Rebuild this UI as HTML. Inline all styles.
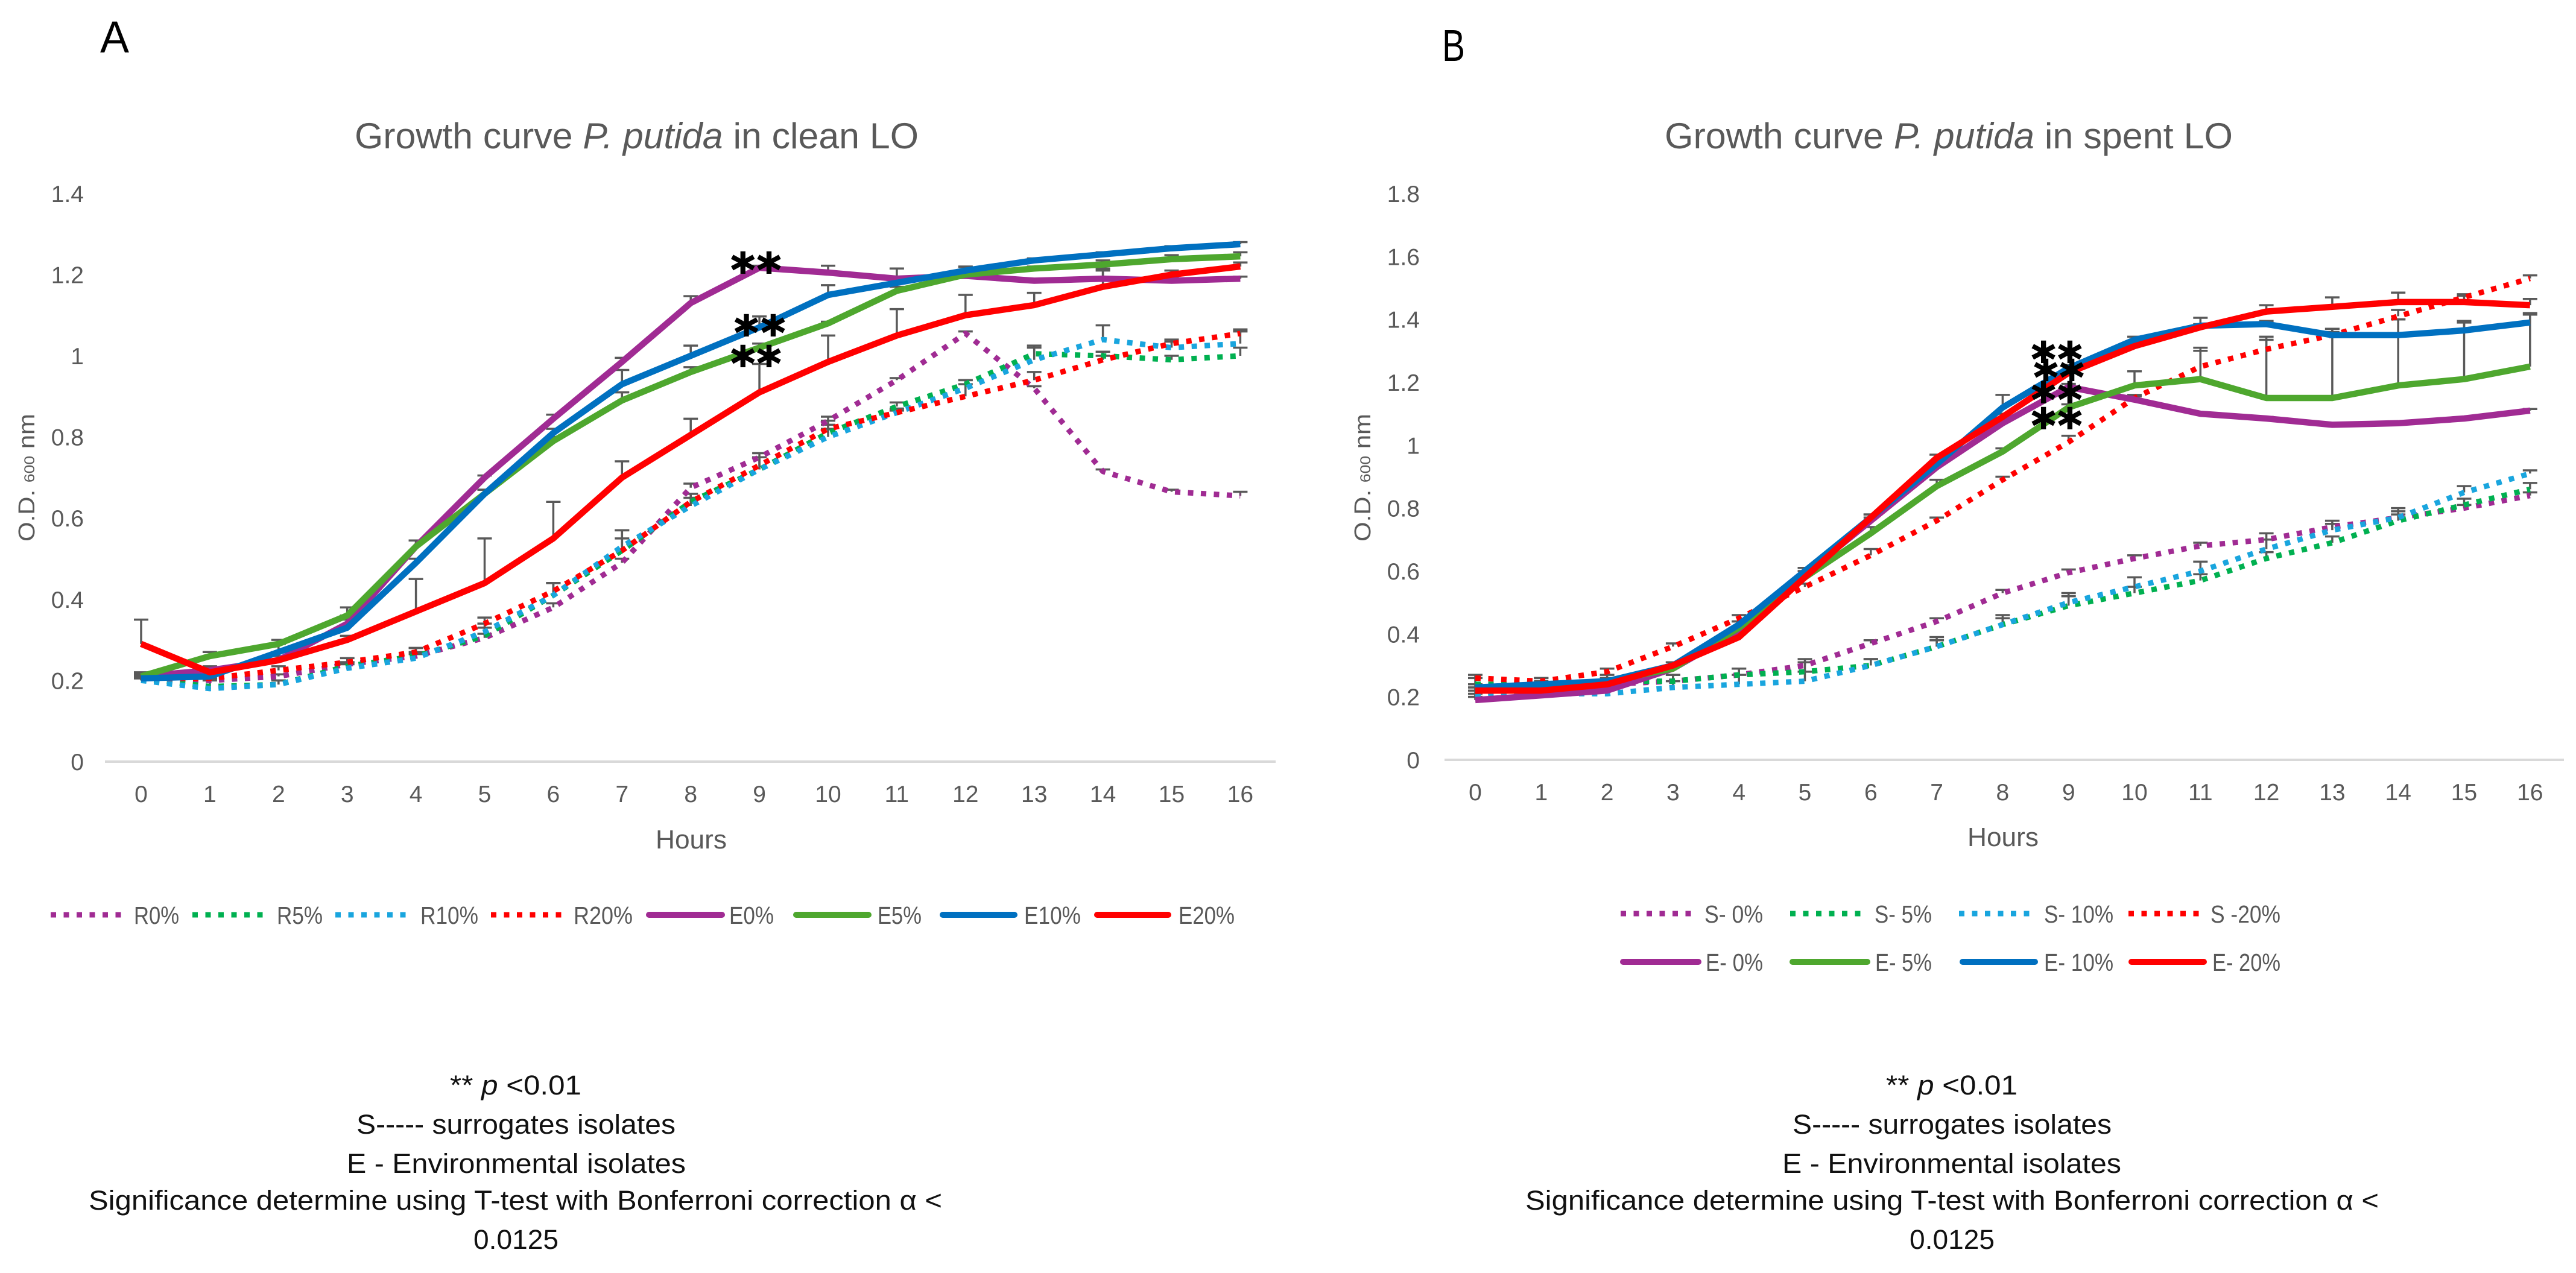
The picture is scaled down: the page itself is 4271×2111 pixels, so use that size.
<!DOCTYPE html>
<html lang="en">
<head>
<meta charset="utf-8">
<title>Growth curves of P. putida</title>
<style>
html,body{margin:0;padding:0;background:#fff;}
svg{display:block;font-family:"Liberation Sans",sans-serif;}
.tick{font-size:39px;fill:#595959;}
.leg{font-size:41px;fill:#595959;}
.foot{font-size:45px;fill:#111;}
.ttl{font-size:60px;fill:#595959;}
.ax{font-size:44px;fill:#595959;}
.yt{font-size:38px;fill:#595959;}
</style>
</head>
<body>
<svg id="figure" width="4271" height="2111" viewBox="0 0 4271 2111" xmlns="http://www.w3.org/2000/svg">
<rect width="4271" height="2111" fill="#fff"/>

<text x="166" y="87" font-size="74" textLength="48" lengthAdjust="spacingAndGlyphs" fill="#000">A</text>
<text x="2391" y="101" font-size="74" textLength="38" lengthAdjust="spacingAndGlyphs" fill="#000">B</text>

<text class="ttl" x="588" y="246" textLength="935" lengthAdjust="spacingAndGlyphs">Growth curve <tspan font-style="italic">P. putida</tspan> in clean LO</text>
<text class="ttl" x="2760" y="246" textLength="942" lengthAdjust="spacingAndGlyphs">Growth curve <tspan font-style="italic">P. putida</tspan> in spent LO</text>

<g id="chartA"></g>
<g id="chartB"></g>

<text class="ax" x="1146" y="1407" text-anchor="middle" textLength="118" lengthAdjust="spacingAndGlyphs">Hours</text>
<text class="ax" x="3321" y="1403" text-anchor="middle" textLength="118" lengthAdjust="spacingAndGlyphs">Hours</text>

<text class="yt" transform="translate(57,898) rotate(-90)" x="0" y="0" textLength="212" lengthAdjust="spacingAndGlyphs">O.D. <tspan font-size="24">600</tspan> nm</text>
<text class="yt" transform="translate(2272,898) rotate(-90)" x="0" y="0" textLength="212" lengthAdjust="spacingAndGlyphs">O.D. <tspan font-size="24">600</tspan> nm</text>

<g stroke-width="9">
  <g><line x1="84" x2="204" y1="1517" y2="1517" stroke="#A02B93" stroke-dasharray="9 12.5"/><text class="leg" stroke="none" x="222" y="1532" textLength="75" lengthAdjust="spacingAndGlyphs">R0%</text></g>
  <g><line x1="319" x2="439" y1="1517" y2="1517" stroke="#00B050" stroke-dasharray="9 12.5"/><text class="leg" stroke="none" x="459" y="1532" textLength="76" lengthAdjust="spacingAndGlyphs">R5%</text></g>
  <g><line x1="556" x2="676" y1="1517" y2="1517" stroke="#19A5DE" stroke-dasharray="9 12.5"/><text class="leg" stroke="none" x="697" y="1532" textLength="96" lengthAdjust="spacingAndGlyphs">R10%</text></g>
  <g><line x1="814" x2="934" y1="1517" y2="1517" stroke="#FF0000" stroke-dasharray="9 12.5"/><text class="leg" stroke="none" x="951" y="1532" textLength="98" lengthAdjust="spacingAndGlyphs">R20%</text></g>
  <g><line x1="1076" x2="1197" y1="1517" y2="1517" stroke="#A02B93" stroke-width="10" stroke-linecap="round"/><text class="leg" stroke="none" x="1209" y="1532" textLength="74" lengthAdjust="spacingAndGlyphs">E0%</text></g>
  <g><line x1="1320" x2="1440" y1="1517" y2="1517" stroke="#4EA72E" stroke-width="10" stroke-linecap="round"/><text class="leg" stroke="none" x="1455" y="1532" textLength="73" lengthAdjust="spacingAndGlyphs">E5%</text></g>
  <g><line x1="1563" x2="1682" y1="1517" y2="1517" stroke="#0070C0" stroke-width="10" stroke-linecap="round"/><text class="leg" stroke="none" x="1698" y="1532" textLength="94" lengthAdjust="spacingAndGlyphs">E10%</text></g>
  <g><line x1="1819" x2="1937" y1="1517" y2="1517" stroke="#FF0000" stroke-width="10" stroke-linecap="round"/><text class="leg" stroke="none" x="1954" y="1532" textLength="93" lengthAdjust="spacingAndGlyphs">E20%</text></g>
</g>

<g stroke-width="9">
  <g><line x1="2687" x2="2807" y1="1515" y2="1515" stroke="#A02B93" stroke-dasharray="9 12.5"/><text class="leg" stroke="none" x="2826" y="1530" textLength="97" lengthAdjust="spacingAndGlyphs">S- 0%</text></g>
  <g><line x1="2968" x2="3086" y1="1515" y2="1515" stroke="#00B050" stroke-dasharray="9 12.5"/><text class="leg" stroke="none" x="3108" y="1530" textLength="95" lengthAdjust="spacingAndGlyphs">S- 5%</text></g>
  <g><line x1="3248" x2="3368" y1="1515" y2="1515" stroke="#19A5DE" stroke-dasharray="9 12.5"/><text class="leg" stroke="none" x="3389" y="1530" textLength="115" lengthAdjust="spacingAndGlyphs">S- 10%</text></g>
  <g><line x1="3529" x2="3647" y1="1515" y2="1515" stroke="#FF0000" stroke-dasharray="9 12.5"/><text class="leg" stroke="none" x="3665" y="1530" textLength="116" lengthAdjust="spacingAndGlyphs">S -20%</text></g>
  <g><line x1="2691" x2="2816" y1="1595" y2="1595" stroke="#A02B93" stroke-width="10" stroke-linecap="round"/><text class="leg" stroke="none" x="2828" y="1610" textLength="95" lengthAdjust="spacingAndGlyphs">E- 0%</text></g>
  <g><line x1="2972" x2="3096" y1="1595" y2="1595" stroke="#4EA72E" stroke-width="10" stroke-linecap="round"/><text class="leg" stroke="none" x="3109" y="1610" textLength="94" lengthAdjust="spacingAndGlyphs">E- 5%</text></g>
  <g><line x1="3254" x2="3374" y1="1595" y2="1595" stroke="#0070C0" stroke-width="10" stroke-linecap="round"/><text class="leg" stroke="none" x="3389" y="1610" textLength="115" lengthAdjust="spacingAndGlyphs">E- 10%</text></g>
  <g><line x1="3534" x2="3654" y1="1595" y2="1595" stroke="#FF0000" stroke-width="10" stroke-linecap="round"/><text class="leg" stroke="none" x="3668" y="1610" textLength="113" lengthAdjust="spacingAndGlyphs">E- 20%</text></g>
</g>

<g>
  <text class="foot" x="746" y="1815" textLength="218" lengthAdjust="spacingAndGlyphs">** <tspan font-style="italic">p</tspan> &lt;0.01</text>
  <text class="foot" x="591" y="1880" textLength="529" lengthAdjust="spacingAndGlyphs">S----- surrogates isolates</text>
  <text class="foot" x="575" y="1945" textLength="562" lengthAdjust="spacingAndGlyphs">E - Environmental isolates</text>
  <text class="foot" x="147" y="2006" textLength="1415" lengthAdjust="spacingAndGlyphs">Significance determine using T-test with Bonferroni correction α &lt;</text>
  <text class="foot" x="785" y="2071" textLength="141" lengthAdjust="spacingAndGlyphs">0.0125</text>
</g>
<g>
  <text class="foot" x="3127" y="1815" textLength="218" lengthAdjust="spacingAndGlyphs">** <tspan font-style="italic">p</tspan> &lt;0.01</text>
  <text class="foot" x="2972" y="1880" textLength="529" lengthAdjust="spacingAndGlyphs">S----- surrogates isolates</text>
  <text class="foot" x="2955" y="1945" textLength="562" lengthAdjust="spacingAndGlyphs">E - Environmental isolates</text>
  <text class="foot" x="2529" y="2006" textLength="1415" lengthAdjust="spacingAndGlyphs">Significance determine using T-test with Bonferroni correction α &lt;</text>
  <text class="foot" x="3166" y="2071" textLength="141" lengthAdjust="spacingAndGlyphs">0.0125</text>
</g>
</svg>

<script>
var hours = [0,1,2,3,4,5,6,7,8,9,10,11,12,13,14,15,16];

// Panel A: clean LO
var aYTicks = [0,0.2,0.4,0.6,0.8,1,1.2,1.4];
var aR0  = [.205,.20,.21,.24,.26,.305,.38,.49,.675,.75,.84,.94,1.055,.92,.715,.665,.655];
var aR5  = [.205,.185,.19,.235,.26,.31,.41,.52,.64,.72,.81,.875,.93,1.005,1.0,.99,1.0];
var aR10 = [.20,.18,.19,.23,.255,.32,.41,.53,.63,.72,.80,.86,.92,.99,1.04,1.02,1.03];
var aR20 = [.205,.205,.225,.245,.27,.34,.42,.52,.64,.73,.82,.86,.90,.94,.99,1.03,1.055];
var aE0  = [.21,.225,.25,.34,.53,.70,.845,.985,1.13,1.217,1.205,1.19,1.197,1.185,1.19,1.185,1.19];
var aE5  = [.21,.26,.29,.36,.53,.66,.79,.89,.96,1.02,1.08,1.16,1.20,1.215,1.225,1.238,1.245];
var aE10 = [.205,.21,.27,.33,.49,.66,.81,.93,1.0,1.07,1.15,1.18,1.21,1.235,1.25,1.265,1.275];
var aE20 = [.29,.22,.25,.30,.37,.44,.55,.70,.805,.91,.985,1.05,1.10,1.125,1.17,1.20,1.22];
var aErrR0  = [.005,.005,.005,.005,.02,.01,.01,.01,.01,.01,.01,.005,.005,.005,.005,.005,.01];
var aErrR5  = [.005,.02,.01,.01,.01,.02,.03,.05,.02,.03,.03,.01,.01,.02,.01,.01,.02];
var aErrR10 = [.005,.02,.01,.01,.01,.02,.03,.04,.02,.03,.02,.01,.02,.03,.035,.015,.03];
var aErrR20 = [.005,.01,.01,.01,.01,.015,.02,.03,.02,.02,.01,.005,.03,.02,.01,.01,.01];
var aErrE0  = [.01,.01,.02,.02,.015,.005,.01,.01,.017,.005,.017,.025,.022,.005,.025,.01,.005];
var aErrE5  = [.01,.01,.01,.02,.015,.01,.01,.02,.012,.01,.004,.01,.005,.005,.01,.01,.01];
var aErrE10 = [.01,.01,.02,.02,.01,.01,.01,.035,.025,.027,.024,.01,.01,.005,.005,.005,.005];
var aErrE20 = [.06,.01,.01,.01,.08,.11,.09,.04,.04,.07,.065,.065,.05,.03,.04,.01,.01];
var aStarHours  = [8.76,9.14,8.81,9.2,8.76,9.14];
var aStarValues = [1.23,1.23,1.076,1.076,1.0,1.0];

// Panel B: spent LO
var bYTicks = [0,0.2,0.4,0.6,0.8,1,1.2,1.4,1.6,1.8];
var bS0  = [.20,.21,.24,.25,.27,.30,.37,.44,.53,.595,.64,.68,.70,.74,.77,.80,.84];
var bS5  = [.24,.24,.25,.25,.27,.28,.30,.36,.43,.49,.53,.57,.64,.69,.76,.81,.86];
var bS10 = [.20,.21,.21,.23,.24,.25,.30,.36,.43,.50,.55,.60,.67,.73,.77,.85,.91];
var bS20 = [.26,.25,.28,.36,.45,.55,.65,.76,.89,1.01,1.15,1.25,1.305,1.35,1.41,1.47,1.53];
var bE0  = [.19,.205,.22,.29,.41,.59,.76,.93,1.07,1.185,1.145,1.10,1.085,1.065,1.07,1.085,1.11];
var bE5  = [.22,.23,.25,.29,.42,.58,.72,.87,.98,1.12,1.19,1.21,1.15,1.15,1.19,1.21,1.25];
var bE10 = [.23,.24,.25,.30,.43,.60,.77,.94,1.12,1.245,1.335,1.38,1.385,1.35,1.35,1.365,1.39];
var bE20 = [.22,.22,.24,.30,.39,.58,.77,.96,1.09,1.23,1.315,1.375,1.425,1.44,1.455,1.455,1.445];
var bErrS0  = [.01,.01,.01,.02,.02,.02,.01,.01,.01,.01,.01,.01,.02,.02,.02,.01,.01];
var bErrS5  = [.02,.02,.02,.02,.02,.03,.02,.02,.02,.03,.02,.02,.02,.02,.02,.02,.02];
var bErrS10 = [.02,.02,.02,.02,.03,.03,.02,.03,.03,.03,.03,.03,.03,.02,.03,.02,.01];
var bErrS20 = [.01,.01,.01,.01,.01,.01,.02,.01,.01,.02,.01,.05,.03,.02,.02,.01,.01];
var bErrE0  = [.01,.01,.01,.01,.01,.01,.01,.01,.01,.01,.01,.005,.005,.005,.005,.005,.005];
var bErrE5  = [.01,.01,.01,.02,.02,.01,.02,.02,.01,.01,.045,.10,.195,.22,.21,.18,.165];
var bErrE10 = [.01,.01,.01,.01,.01,.01,.01,.01,.04,.01,.01,.025,.01,.01,.05,.03,.03];
var bErrE20 = [.01,.01,.01,.01,.01,.01,.01,.01,.01,.01,.01,.01,.02,.03,.03,.02,.02];
var bStarHours  = [8.62,9.02,8.655,9.05,8.62,9.02,8.62,9.02];
var bStarValues = [1.298,1.298,1.24,1.24,1.169,1.169,1.087,1.087];

var NS = 'http://www.w3.org/2000/svg';

function make(parent, tag, attrs) {
  var el = document.createElementNS(NS, tag);
  for (var k in attrs) { el.setAttribute(k, attrs[k]); }
  parent.appendChild(el);
  return el;
}

function drawChart(root, prefix, xOf, yOf, axisX0, axisX1, labelRight, yTicks, list, starHours, starValues) {
  // baseline axis
  var axis = make(root, 'line', {x1: axisX0, x2: axisX1, y1: yOf(0), y2: yOf(0), stroke: '#D9D9D9', 'stroke-width': 4});
  
  

  yTicks.forEach(function (t) {
    var lab = make(root, 'text', {x: labelRight, y: yOf(t) + 14, 'text-anchor': 'end', 'class': 'tick'});
    lab.textContent = String(t);
    
    
  });
  hours.forEach(function (h) {
    var lab = make(root, 'text', {x: xOf(h), y: yOf(0) + 67, 'text-anchor': 'middle', 'class': 'tick'});
    lab.textContent = String(h);
    
    
  });

  // error bars sit under the series lines
  list.forEach(function (s) {
    var grp = make(root, 'g', {stroke: '#595959', 'stroke-width': 3.5, fill: 'none'});
    
    
    s.values.forEach(function (v, i) {
      var x = xOf(hours[i]), y0 = yOf(v), y1 = yOf(v + s.err[i]);
      var d = 'M' + x + ' ' + y0 + 'V' + y1 + 'M' + (x - 12) + ' ' + y1 + 'H' + (x + 12);
      var bar = make(grp, 'path', {d: d});
      
      
    });
  });

  list.forEach(function (s) {
    var pts = s.values.map(function (v, i) { return xOf(hours[i]).toFixed(1) + ',' + yOf(v).toFixed(1); }).join(' ');
    var attrs = {points: pts, fill: 'none', stroke: s.color, 'stroke-linejoin': 'round'};
    if (s.dotted) { attrs['stroke-width'] = 9; attrs['stroke-dasharray'] = '9 12.5'; }
    else { attrs['stroke-width'] = 10.5; }
    var line = make(root, 'polyline', attrs);
    
    
  });

  starHours.forEach(function (h, i) {
    var st = make(root, 'text', {
      x: xOf(h), y: yOf(starValues[i]) + 39, 'text-anchor': 'middle',
      'font-family': '"DejaVu Sans", sans-serif', 'font-weight': 'bold', 'font-size': 76,
      fill: '#000', stroke: '#000', 'stroke-width': 2
    });
    st.textContent = '*';
    
    
  });
}

function xA(h) { return 234 + h * 113.9; }
function yA(v) { return 1263 - v * 673; }
function xB(h) { return 2446 + h * 109.3; }
function yB(v) { return 1260 - v * 521.7; }

var PURPLE = '#A02B93', GREEN = '#4EA72E', DGREEN = '#00B050', BLUE = '#0070C0', LBLUE = '#19A5DE', RED = '#FF0000';

drawChart(document.getElementById('chartA'), 'chart-a', xA, yA, 174, 2115, 139, aYTicks, [
  {name: 'r0',  values: aR0,  err: aErrR0,  color: PURPLE, dotted: true},
  {name: 'r5',  values: aR5,  err: aErrR5,  color: DGREEN, dotted: true},
  {name: 'r10', values: aR10, err: aErrR10, color: LBLUE,  dotted: true},
  {name: 'r20', values: aR20, err: aErrR20, color: RED,    dotted: true},
  {name: 'e0',  values: aE0,  err: aErrE0,  color: PURPLE, dotted: false},
  {name: 'e5',  values: aE5,  err: aErrE5,  color: GREEN,  dotted: false},
  {name: 'e10', values: aE10, err: aErrE10, color: BLUE,   dotted: false},
  {name: 'e20', values: aE20, err: aErrE20, color: RED,    dotted: false}
], aStarHours, aStarValues);

drawChart(document.getElementById('chartB'), 'chart-b', xB, yB, 2395, 4251, 2354, bYTicks, [
  {name: 's0',  values: bS0,  err: bErrS0,  color: PURPLE, dotted: true},
  {name: 's5',  values: bS5,  err: bErrS5,  color: DGREEN, dotted: true},
  {name: 's10', values: bS10, err: bErrS10, color: LBLUE,  dotted: true},
  {name: 's20', values: bS20, err: bErrS20, color: RED,    dotted: true},
  {name: 'e0',  values: bE0,  err: bErrE0,  color: PURPLE, dotted: false},
  {name: 'e5',  values: bE5,  err: bErrE5,  color: GREEN,  dotted: false},
  {name: 'e10', values: bE10, err: bErrE10, color: BLUE,   dotted: false},
  {name: 'e20', values: bE20, err: bErrE20, color: RED,    dotted: false}
], bStarHours, bStarValues);
</script>
</body>
</html>
